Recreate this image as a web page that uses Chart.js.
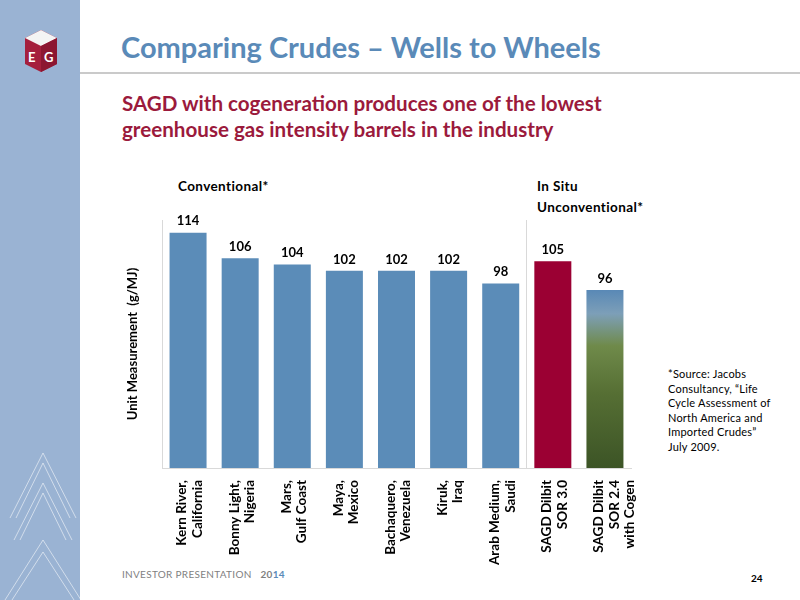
<!DOCTYPE html>
<html>
<head>
<meta charset="utf-8">
<script src="https://cdn.jsdelivr.net/npm/chart.js@4.4.1/dist/chart.umd.min.js"></script>
<style>
  html, body { margin: 0; padding: 0; background: #fff; }
  body { width: 800px; height: 600px; position: relative; overflow: hidden; font-family: Lato, "Open Sans", sans-serif; }
  #side { position: absolute; left: 0; top: 0; width: 80px; height: 600px; background: #9ab3d3; }
  #side svg { position: absolute; left: 0; top: 0; }
  #rule { position: absolute; left: 80px; top: 72px; width: 720px; height: 2px; background: #cacaca; }
  .txt { position: absolute; white-space: nowrap; }
  #titulo { left: 121px; top: 29px; font-size: 29px; font-weight: bold; color: #5a8ab8; }
  #sub { left: 122px; top: 90px; font-size: 20.6px; font-weight: bold; color: #9b1a3c; line-height: 26px; }
  .grupo { font-size: 13.5px; font-weight: bold; color: #000; line-height: 21px; letter-spacing: 0.4px; }
  #fonte { left: 668px; top: 367px; font-size: 11px; color: #000; line-height: 14.6px; letter-spacing: 0.2px; }
  #rodape { left: 122px; top: 568px; font-size: 10px; color: #7f7f7f; letter-spacing: 0.3px; }
  #rodape b { color: #7f7f7f; margin-left: 6px; }
  #rodape b span { color: #5a8ab8; }
  #pagina { left: 751px; top: 572px; font-size: 10px; font-weight: bold; color: #000; }
  #wrap { position: absolute; left: 0; top: 0; width: 800px; height: 600px; }
</style>
</head>
<body>
<div id="side">
  <svg width="80" height="600">
    <!-- logo -->
    <polygon points="41,30 57,38 57,64 41,72 25,64 25,38" fill="#a51f3c"/>
    <polygon points="41,30 57,38 41,46 25,38" fill="#f4f4f4"/>
    <polygon points="41,46 57,38 57,64 41,72" fill="#8c1631"/>
    <text x="28" y="62" font-family="Lato" font-weight="bold" font-size="13" fill="#fff">E</text>
    <text x="44" y="62" font-family="Lato" font-weight="bold" font-size="13" fill="#fff">G</text>
    <!-- chevrons -->
    <g fill="none" stroke="rgba(255,255,255,0.55)" stroke-width="1">
      <polyline points="10,518 43,453 76,518"/>
      <polyline points="16,518 43,463 70,518"/>
      <polyline points="14,540 43,483 72,540"/>
      <polyline points="20,540 43,493 66,540"/>
      <polyline points="5,600 43,540 81,600"/>
      <polyline points="12,600 43,552 74,600"/>
    </g>
  </svg>
</div>
<div id="rule"></div>
<div class="txt" id="titulo">Comparing Crudes – Wells to Wheels</div>
<div class="txt" id="sub">SAGD with cogeneration produces one of the lowest<br>greenhouse gas intensity barrels in the industry</div>
<div class="txt grupo" style="left:178px;top:176px;">Conventional*</div>
<div class="txt grupo" style="left:537px;top:176px;">In Situ<br>Unconventional*</div>
<div class="txt" id="fonte">*Source: Jacobs<br>Consultancy, “Life<br>Cycle Assessment of<br>North America and<br>Imported Crudes”<br>July 2009.</div>
<div class="txt" id="rodape">INVESTOR PRESENTATION <b>20<span>14</span></b></div>
<div class="txt" id="pagina">24</div>
<div id="wrap"><canvas id="grafico" width="800" height="600"></canvas></div>

<script>
// ====== DADOS ======
const categorias = [
  ['Kern River,', 'California'],
  ['Bonny Light,', 'Nigeria'],
  ['Mars,', 'Gulf Coast'],
  ['Maya,', 'Mexico'],
  ['Bachaquero,', 'Venezuela'],
  ['Kiruk,', 'Iraq'],
  ['Arab Medium,', 'Saudi'],
  ['SAGD Dilbit', 'SOR 3.0'],
  ['SAGD Dilbit', 'SOR 2.4', 'with Cogen'],
];
const valores = [114, 106, 104, 102, 102, 102, 98, 105, 96];
const tipos = ['conv', 'conv', 'conv', 'conv', 'conv', 'conv', 'conv', 'sagd', 'cogen'];

const AZUL = '#5b8cb8';
const VERMELHO = '#9b0033';

// ====== CORES ======
function corBarra(c) {
  const t = tipos[c.dataIndex];
  if (t === 'conv') return AZUL;
  if (t === 'sagd') return VERMELHO;
  // barra "foto": ceu e vegetacao
  const area = c.chart.chartArea;
  if (!area) return '#5d7a3c';
  const g = c.chart.ctx.createLinearGradient(0, area.top + 60, 0, area.bottom);
  g.addColorStop(0, '#4a7fb5');
  g.addColorStop(0.18, '#7d9fb8');
  g.addColorStop(0.35, '#6f8a4a');
  g.addColorStop(0.6, '#566f34');
  g.addColorStop(1, '#3c5426');
  return g;
}

// ====== ROTULOS ======
const rotulosValor = {
  id: 'rotulosValor',
  afterDatasetsDraw(chart) {
    const ctx = chart.ctx;
    const meta = chart.getDatasetMeta(0);
    ctx.save();
    ctx.font = 'bold 13px Lato, sans-serif';
    ctx.fillStyle = '#000';
    ctx.textAlign = 'center';
    ctx.textBaseline = 'bottom';
    meta.data.forEach((bar, i) => {
      ctx.fillText(valores[i], bar.x, bar.y - 5);
    });
    ctx.restore();
  },
};

// ====== GRAFICO ======
new Chart(document.getElementById('grafico'), {
  type: 'bar',
  data: {
    labels: categorias,
    datasets: [{
      data: valores,
      backgroundColor: corBarra,
      categoryPercentage: 1,
      barPercentage: 0.71,
    }],
  },
  options: {
    responsive: false,
    animation: false,
    layout: { padding: { left: 122, top: 220, right: 169, bottom: 0 } },
    plugins: { legend: { display: false }, tooltip: { enabled: false } },
    scales: {
      x: {
        afterFit: s => { s.height = 132; },
        grid: {
          drawTicks: false,
          color: c => (c.index === 7 ? '#d9d9d9' : 'rgba(0,0,0,0)'),
        },
        border: { display: true, color: '#d9d9d9' },
        ticks: {
          minRotation: 90,
          maxRotation: 90,
          padding: 12,
          labelOffset: -6,
          color: '#000',
          font: { family: 'Lato', weight: 'bold', size: 13.5, lineHeight: 1.15 },
        },
      },
      y: {
        min: 40,
        max: 118,
        afterFit: s => { s.width = 40; },
        grid: { display: false },
        border: { display: true, color: '#d9d9d9' },
        ticks: { display: false },
        title: {
          display: true,
          text: 'Unit Measurement  (g/MJ)',
          color: '#000',
          font: { family: 'Lato', weight: 'bold', size: 13 },
          padding: { top: 3, bottom: 0 },
        },
      },
    },
  },
  plugins: [rotulosValor],
});
</script>
</body>
</html>
